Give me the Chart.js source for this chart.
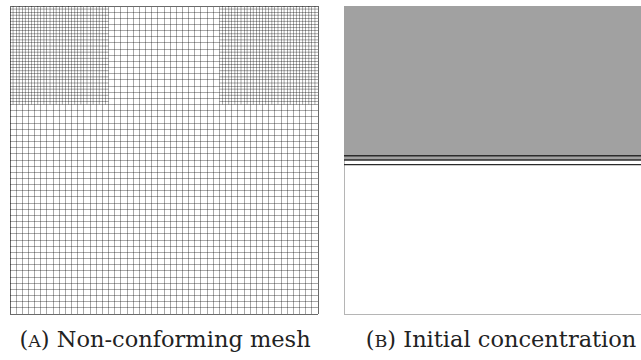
<!DOCTYPE html>
<html>
<head>
<meta charset="utf-8">
<script src="https://cdn.jsdelivr.net/npm/chart.js@4/dist/chart.umd.min.js"></script>
<style>
  html, body { margin: 0; padding: 0; background: #fff; overflow: hidden; width: 641px; height: 360px; }
  .panel { position: absolute; }
  .caption {
    position: absolute;
    font-family: "DejaVu Serif", serif;
    font-size: 22.5px;
    line-height: 26px;
    color: #222;
    white-space: nowrap;
    transform: translateX(-50%);
  }
  .caption .sc { font-size: 0.78em; }
</style>
</head>
<body>
<div class="panel" style="left:8px;top:4px;width:312px;height:312px;"><canvas id="meshChart"></canvas></div>
<div class="panel" style="left:342px;top:4px;width:312px;height:312px;"><canvas id="concChart"></canvas></div>
<div class="caption" style="left:165px;top:326px;">(<span class="sc">A</span>) Non-conforming mesh</div>
<div class="caption" style="left:501px;top:326px;">(<span class="sc">B</span>) Initial concentration</div>
<script>
// domain and mesh
const meshSize = 50;
const coarseStep = 1;
const fineStep = 0.5;
const fineBlocksX = [[0, 16], [34, 50]];
const fineBlockY = [34, 50];

// initial concentration: interface levels (y) across the domain
const concLevels = [25.7, 25.0, 24.25];
const concFillLevel = 25.0;

const lineColor = 'rgba(0,0,0,0.34)';

// refined mesh lines inside each block, broken with null gaps
function fineSegments(x0, x1, y0, y1) {
  const pts = [];
  for (let x = x0 + fineStep; x < x1; x += 2 * fineStep) {
    pts.push({ x, y: y0 }, { x, y: y1 }, { x, y: null });
  }
  for (let y = y0 + fineStep; y < y1; y += 2 * fineStep) {
    pts.push({ x: x0, y }, { x: x1, y }, { x: x1, y: null });
  }
  return pts;
}

const meshDatasets = fineBlocksX.map(([x0, x1]) => ({
  data: fineSegments(x0, x1, fineBlockY[0], fineBlockY[1]),
  borderColor: lineColor,
  borderWidth: 1,
  pointRadius: 0,
  spanGaps: false,
  fill: false,
  tension: 0
}));

function squareScale(step, colorFn) {
  return {
    type: 'linear',
    min: 0,
    max: meshSize,
    ticks: { display: false, stepSize: step, autoSkip: false },
    grid: { color: colorFn, lineWidth: 1, drawTicks: false },
    border: { display: false }
  };
}

const edgeColor = ctx => (ctx.tick && (ctx.tick.value === 0 || ctx.tick.value === meshSize)) ? '#6a6a6a' : lineColor;

new Chart(document.getElementById('meshChart'), {
  type: 'line',
  data: { datasets: meshDatasets },
  options: {
    responsive: true,
    maintainAspectRatio: false,
    animation: false,
    layout: { padding: 2 },
    plugins: { legend: { display: false }, tooltip: { enabled: false } },
    scales: {
      x: squareScale(coarseStep, edgeColor),
      y: squareScale(coarseStep, edgeColor)
    }
  }
});

const concDatasets = concLevels.map(level => ({
  data: [{ x: 0, y: level }, { x: meshSize, y: level }],
  borderColor: '#2b2b2b',
  borderWidth: 1.4,
  pointRadius: 0,
  fill: level === concFillLevel ? 'end' : false,
  backgroundColor: '#a1a1a1'
}));

new Chart(document.getElementById('concChart'), {
  type: 'line',
  data: { datasets: concDatasets },
  options: {
    responsive: true,
    maintainAspectRatio: false,
    animation: false,
    layout: { padding: 2 },
    plugins: { legend: { display: false }, tooltip: { enabled: false } },
    scales: {
      x: squareScale(meshSize, () => '#b5b5b5'),
      y: squareScale(meshSize, ctx => (ctx.tick && ctx.tick.value === meshSize) ? '#555' : '#b5b5b5')
    }
  }
});
</script>
</body>
</html>
